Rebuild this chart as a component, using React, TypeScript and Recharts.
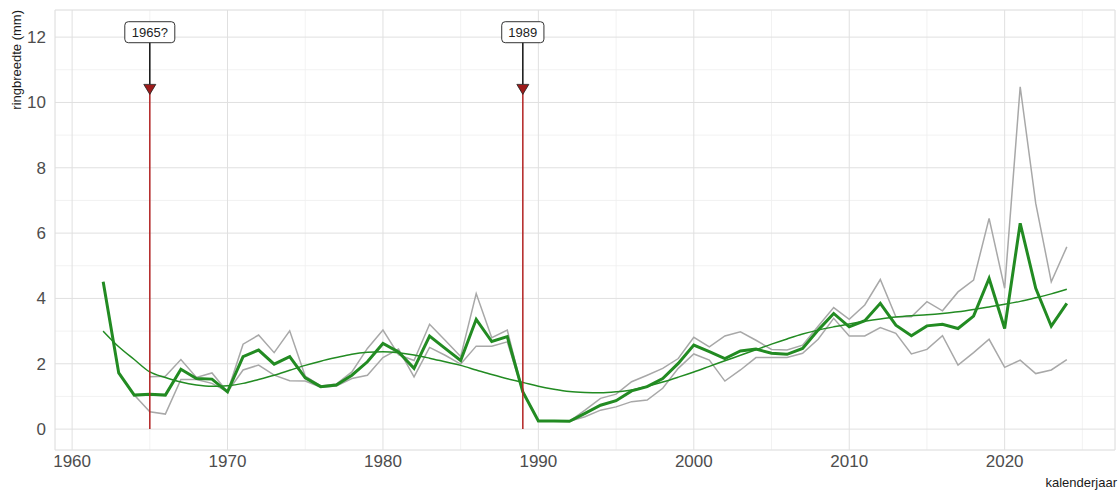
import React from "react";
import {
  LineChart,
  Line,
  XAxis,
  YAxis,
  CartesianGrid,
  ReferenceLine,
  ReferenceDot,
} from "recharts";

const years = [
  1962, 1963, 1964, 1965, 1966, 1967, 1968, 1969, 1970, 1971, 1972, 1973, 1974,
  1975, 1976, 1977, 1978, 1979, 1980, 1981, 1982, 1983, 1984, 1985, 1986, 1987,
  1988, 1989, 1990, 1991, 1992, 1993, 1994, 1995, 1996, 1997, 1998, 1999, 2000,
  2001, 2002, 2003, 2004, 2005, 2006, 2007, 2008, 2009, 2010, 2011, 2012, 2013,
  2014, 2015, 2016, 2017, 2018, 2019, 2020, 2021, 2022, 2023, 2024,
];

// gemiddelde ringbreedte
const meanWidth = [
  4.51, 1.72, 1.04, 1.07, 1.04, 1.83, 1.55, 1.53, 1.14, 2.22, 2.42, 1.99, 2.22,
  1.57, 1.3, 1.35, 1.65, 2.06, 2.62, 2.36, 1.86, 2.85, 2.47, 2.1, 3.36, 2.68,
  2.83, 1.14, 0.25, 0.25, 0.24, 0.48, 0.73, 0.87, 1.17, 1.3, 1.55, 2.01, 2.57,
  2.37, 2.16, 2.39, 2.45, 2.32, 2.29, 2.47, 3.03, 3.54, 3.13, 3.32, 3.85, 3.18,
  2.86, 3.16, 3.21, 3.08, 3.46, 4.61, 3.08, 6.3, 4.31, 3.15, 3.85,
];

// boring A
const sampleA = [
  4.51, 1.72, 1.04, 0.53, 0.46, 1.52, 1.52, 1.4, 1.14, 1.81, 1.96, 1.65, 1.48,
  1.47, 1.28, 1.32, 1.55, 1.65, 2.19, 2.45, 1.6, 2.5, 2.26, 1.99, 2.54, 2.54,
  2.67, 1.14, 0.25, 0.25, 0.24, 0.38, 0.58, 0.68, 0.84, 0.89, 1.25, 1.86, 2.3,
  2.11, 1.47, 1.81, 2.19, 2.19, 2.19, 2.32, 2.75, 3.39, 2.85, 2.85, 3.11, 2.93,
  2.3, 2.44, 2.86, 1.96, 2.34, 2.75, 1.89, 2.11, 1.7, 1.81, 2.13,
];

// boring B (begint in 1965)
const sampleB = [
  null, null, null, 1.6, 1.62, 2.13, 1.58, 1.72, 1.14, 2.6, 2.88, 2.34, 3.01,
  1.62, 1.32, 1.38, 1.75, 2.47, 3.03, 2.28, 2.1, 3.21, 2.72, 2.22, 4.15, 2.8,
  3.03, 1.14, 0.25, 0.25, 0.24, 0.58, 0.94, 1.07, 1.45, 1.65, 1.86, 2.16, 2.81,
  2.52, 2.85, 2.98, 2.72, 2.44, 2.42, 2.57, 3.15, 3.72, 3.36, 3.8, 4.58, 3.44,
  3.44, 3.9, 3.62, 4.2, 4.56, 6.45, 4.31, 10.48, 6.91, 4.51, 5.58,
];

// trendlijn
const smoothWidth = [
  3.0, 2.52, 2.13, 1.75, 1.58, 1.44, 1.35, 1.31, 1.33, 1.4, 1.52, 1.65, 1.8,
  1.95, 2.08, 2.19, 2.29, 2.35, 2.37, 2.34, 2.27, 2.17, 2.06, 1.95, 1.81, 1.67,
  1.54, 1.43, 1.31, 1.22, 1.15, 1.12, 1.11, 1.14, 1.2, 1.31, 1.44, 1.59, 1.75,
  1.92, 2.09, 2.26, 2.43, 2.6, 2.76, 2.91, 3.03, 3.13, 3.22, 3.3, 3.37, 3.43,
  3.47, 3.5, 3.54, 3.59, 3.66, 3.74, 3.82, 3.91, 4.02, 4.14, 4.28,
];

const events = [
  { year: 1965, label: "1965?" },
  { year: 1989, label: "1989" },
];

const xTicks = [1960, 1970, 1980, 1990, 2000, 2010, 2020];
const xMinorTicks = [1965, 1975, 1985, 1995, 2005, 2015, 2025];
const yTicks = [0, 2, 4, 6, 8, 10, 12];
const yMinorTicks = [1, 3, 5, 7, 9, 11];

const data = years.map((year, i) => ({
  year,
  mean: meanWidth[i],
  a: sampleA[i],
  b: sampleB[i],
  smooth: smoothWidth[i],
}));

const font = "'Liberation Sans', Arial, sans-serif";

const Triangle = (props: any) => {
  const { cx, cy } = props;
  return (
    <polygon
      points={`${cx - 6},${cy - 5} ${cx + 6},${cy - 5} ${cx},${cy + 5}`}
      fill="#9e1b1b"
      stroke="#222"
      strokeWidth={0.8}
    />
  );
};

const makeLabelBox = (text: string) => (props: any) => {
  const { cx, cy } = props;
  const w = text.length * 7.8 + 11;
  return (
    <g>
      <rect
        x={cx - w / 2}
        y={cy - 10.5}
        width={w}
        height={21}
        rx={3.5}
        fill="#fff"
        stroke="#333"
        strokeWidth={1}
      />
      <text
        x={cx}
        y={cy + 4.7}
        textAnchor="middle"
        fontSize={13}
        fontFamily={font}
        fill="#222"
      >
        {text}
      </text>
    </g>
  );
};

export default function App() {
  return (
    <div
      style={{
        position: "absolute",
        left: 0,
        top: 0,
        width: 1120,
        height: 490,
        background: "#fff",
        fontFamily: font,
      }}
    >
      <LineChart
        width={1120}
        height={490}
        data={data}
        margin={{ top: 10, right: 5, bottom: 0, left: 10 }}
      >
        <XAxis
          xAxisId="minor"
          type="number"
          dataKey="year"
          domain={[1958.9, 2027.1]}
          ticks={xMinorTicks}
          allowDataOverflow
          hide
        />
        <YAxis
          yAxisId="minor"
          type="number"
          domain={[-0.64, 12.83]}
          ticks={yMinorTicks}
          allowDataOverflow
          hide
        />
        <CartesianGrid
          xAxisId="minor"
          yAxisId="minor"
          stroke="#efefef"
          strokeWidth={0.8}
        />
        <CartesianGrid stroke="#e0e0e0" strokeWidth={1} />

        <XAxis
          type="number"
          dataKey="year"
          domain={[1958.9, 2027.1]}
          ticks={xTicks}
          allowDataOverflow
          axisLine={false}
          tickLine={false}
          tickSize={0}
          tickMargin={5}
          height={40}
          tick={{ fontSize: 17, fill: "#4d4d4d", fontFamily: font }}
        />
        <YAxis
          type="number"
          domain={[-0.64, 12.83]}
          ticks={yTicks}
          allowDataOverflow
          axisLine={false}
          tickLine={false}
          tickSize={0}
          tickMargin={9}
          width={45}
          tick={{ fontSize: 17, fill: "#4d4d4d", fontFamily: font }}
        />

        {/* losse boringen */}
        <Line
          dataKey="a"
          stroke="#a8a8a8"
          strokeWidth={1.5}
          dot={false}
          isAnimationActive={false}
        />
        <Line
          dataKey="b"
          stroke="#a8a8a8"
          strokeWidth={1.5}
          dot={false}
          isAnimationActive={false}
        />

        {/* trend */}
        <Line
          dataKey="smooth"
          type="monotone"
          stroke="#228b22"
          strokeWidth={1.5}
          dot={false}
          isAnimationActive={false}
        />

        {/* gemiddelde */}
        <Line
          dataKey="mean"
          stroke="#228b22"
          strokeWidth={3}
          dot={false}
          isAnimationActive={false}
        />

        {events.map((e) => (
          <ReferenceLine
            key={"red" + e.year}
            segment={[
              { x: e.year, y: 0 },
              { x: e.year, y: 10.4 },
            ]}
            stroke="#b22222"
            strokeWidth={1.5}
          />
        ))}
        {events.map((e) => (
          <ReferenceLine
            key={"blk" + e.year}
            segment={[
              { x: e.year, y: 10.55 },
              { x: e.year, y: 11.85 },
            ]}
            stroke="#111"
            strokeWidth={1.5}
          />
        ))}
        {events.map((e) => (
          <ReferenceDot
            key={"tri" + e.year}
            x={e.year}
            y={10.4}
            shape={Triangle}
          />
        ))}
        {events.map((e) => (
          <ReferenceDot
            key={"lab" + e.year}
            x={e.year}
            y={12.15}
            shape={makeLabelBox(e.label)}
          />
        ))}
      </LineChart>

      <div
        style={{
          position: "absolute",
          left: 9,
          top: 140,
          width: 130,
          height: 16,
          transformOrigin: "top left",
          transform: "rotate(-90deg)",
          textAlign: "right",
          fontSize: 13,
          color: "#1a1a1a",
          whiteSpace: "nowrap",
        }}
      >
        ringbreedte (mm)
      </div>
      <div
        style={{
          position: "absolute",
          left: 960,
          top: 475,
          width: 157,
          textAlign: "right",
          fontSize: 13,
          color: "#1a1a1a",
        }}
      >
        kalenderjaar
      </div>
    </div>
  );
}
